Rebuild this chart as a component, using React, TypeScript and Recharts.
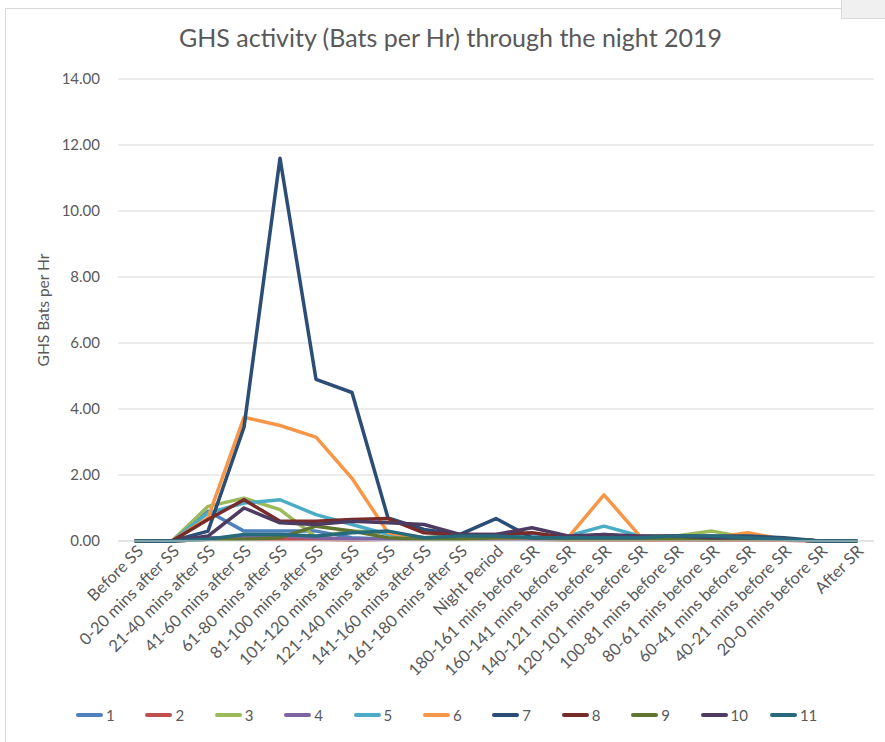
import { LineChart, Line, XAxis, YAxis, CartesianGrid, Label } from 'recharts';

const categories = [
  'Before SS',
  '0-20 mins after SS',
  '21-40 mins after SS',
  '41-60 mins after SS',
  '61-80 mins after SS',
  '81-100 mins after SS',
  '101-120 mins after SS',
  '121-140 mins after SS',
  '141-160 mins after SS',
  '161-180 mins after SS',
  'Night Period',
  '180-161 mins before SR',
  '160-141 mins before SR',
  '140-121 mins before SR',
  '120-101 mins before SR',
  '100-81 mins before SR',
  '80-61 mins before SR',
  '60-41 mins before SR',
  '40-21 mins before SR',
  '20-0 mins before SR',
  'After SR',
];

const s1 = [0, 0, 0.9, 0.3, 0.3, 0.3, 0.1, 0.05, 0.05, 0.05, 0.05, 0.05, 0.05, 0.05, 0.05, 0.05, 0.05, 0.05, 0.05, 0, 0];
const s2 = [0, 0, 0.05, 0.05, 0.05, 0.05, 0.02, 0.05, 0.05, 0.05, 0.05, 0.05, 0.02, 0.02, 0.02, 0.02, 0.02, 0.02, 0.02, 0, 0];
const s3 = [0, 0, 1.05, 1.3, 0.95, 0.12, 0.3, 0.25, 0.1, 0.15, 0.1, 0.1, 0.15, 0.15, 0.15, 0.15, 0.3, 0.1, 0.05, 0, 0];
const s4 = [0, 0, 0.1, 0.1, 0.15, 0.1, 0.05, 0.05, 0.05, 0.05, 0.05, 0.05, 0.05, 0.05, 0.05, 0.05, 0.05, 0.05, 0.05, 0, 0];
const s5 = [0, 0, 0.85, 1.15, 1.25, 0.8, 0.5, 0.2, 0.1, 0.1, 0.15, 0.15, 0.15, 0.45, 0.15, 0.1, 0.1, 0.1, 0.05, 0, 0];
const s6 = [0, 0, 0.7, 3.75, 3.5, 3.15, 1.9, 0.25, 0.05, 0.05, 0.1, 0.1, 0.1, 1.4, 0.15, 0.1, 0.1, 0.25, 0.05, 0, 0];
const s7 = [0, 0, 0.3, 3.45, 11.6, 4.9, 4.5, 0.7, 0.35, 0.2, 0.68, 0.1, 0.1, 0.2, 0.1, 0.15, 0.15, 0.15, 0.1, 0, 0];
const s8 = [0, 0, 0.65, 1.25, 0.6, 0.6, 0.65, 0.68, 0.25, 0.2, 0.2, 0.25, 0.1, 0.1, 0.1, 0.1, 0.05, 0.05, 0.05, 0, 0];
const s9 = [0, 0, 0.05, 0.05, 0.1, 0.45, 0.3, 0.1, 0.05, 0.05, 0.1, 0.1, 0.05, 0.05, 0.05, 0.05, 0.05, 0.05, 0.05, 0, 0];
const s10 = [0, 0, 0.15, 1.0, 0.55, 0.5, 0.6, 0.55, 0.5, 0.2, 0.2, 0.4, 0.15, 0.2, 0.15, 0.15, 0.1, 0.1, 0.05, 0, 0];
const s11 = [0, 0, 0.05, 0.2, 0.2, 0.15, 0.25, 0.3, 0.1, 0.15, 0.15, 0.1, 0.1, 0.1, 0.1, 0.15, 0.15, 0.1, 0.05, 0, 0];

const seriesNames = ['1', '2', '3', '4', '5', '6', '7', '8', '9', '10', '11'];
const seriesValues = [s1, s2, s3, s4, s5, s6, s7, s8, s9, s10, s11];
const seriesColors = [
  '#4F81BD', '#C0504D', '#9BBB59', '#8064A2', '#4BACC6', '#F79646',
  '#2C4D75', '#772C2A', '#5F7530', '#4D3B62', '#276A7C',
];
const yTicks = [0, 2, 4, 6, 8, 10, 12, 14];

const data = categories.map((cat, i) => {
  const row: Record<string, string | number> = { cat };
  seriesNames.forEach((n, k) => { row['s' + n] = seriesValues[k][i]; });
  return row;
});

const FONT = 'Lato, "Open Sans", sans-serif';
const TEXT = '#595959';

function XTick(props: any) {
  const { x, y, payload } = props;
  const ax = x + 4;
  const ay = y - 1;
  return (
    <text
      x={ax}
      y={ay}
      transform={`rotate(-45, ${ax}, ${ay})`}
      textAnchor="end"
      dominantBaseline="central"
      fontSize={16.5}
      fontFamily={FONT}
      fill={TEXT}
    >
      {payload.value}
    </text>
  );
}

export default function App() {
  return (
    <div style={{ position: 'relative', width: 885, height: 742, background: '#fff', fontFamily: FONT }}>
      <style>{'body{margin:0}'}</style>
      <div style={{ position: 'absolute', left: 5, top: 8, width: 836, height: 740, borderLeft: '1px solid #d9d9d9', borderTop: '1px solid #d9d9d9' }} />
      <div style={{ position: 'absolute', left: 841, top: 0, width: 44, height: 18, background: '#f0f0f0', borderLeft: '1px solid #d9d9d9', borderBottom: '1px solid #d9d9d9' }} />
      <div style={{ position: 'absolute', left: 16, top: 22, width: 869, textAlign: 'center', fontSize: 25, color: TEXT }}>
        GHS activity (Bats per Hr) through the night 2019
      </div>
      <div style={{ position: 'absolute', left: 0, top: 0 }}>
        <LineChart width={885} height={742} data={data} margin={{ top: 79, right: 11, bottom: 0, left: 58 }}>
          <CartesianGrid vertical={false} stroke="#d9d9d9" strokeWidth={1} />
          <XAxis
            dataKey="cat"
            interval={0}
            padding={{ left: 18, right: 18 }}
            stroke="#d9d9d9"
            tickLine={false}
            tick={<XTick />}
            height={201}
          />
          <YAxis
            domain={[0, 14]}
            ticks={yTicks}
            tickFormatter={(v: number) => v.toFixed(2)}
            axisLine={false}
            tickLine={false}
            tickSize={0}
            tickMargin={18}
            width={60}
            tick={{ fontSize: 15, fill: TEXT, fontFamily: FONT }}
          >
            <Label
              value="GHS Bats per Hr"
              angle={-90}
              position="insideLeft"
              offset={-15}
              style={{ fontSize: 15.5, fill: TEXT, fontFamily: FONT, textAnchor: 'middle' }}
            />
          </YAxis>
          {seriesNames.map((n, k) => (
            <Line
              key={n}
              type="linear"
              dataKey={'s' + n}
              name={n}
              stroke={seriesColors[k]}
              strokeWidth={3.5}
              strokeLinejoin="round"
              strokeLinecap="round"
              dot={false}
              isAnimationActive={false}
            />
          ))}
        </LineChart>
      </div>
      <div style={{ position: 'absolute', left: 76, top: 706, display: 'flex' }}>
        {seriesNames.map((n, k) => (
          <div key={n} style={{ display: 'flex', alignItems: 'center', width: 69.4 }}>
            <div style={{ width: 27, height: 4, borderRadius: 2, background: seriesColors[k], marginRight: 3 }} />
            <span style={{ fontSize: 15, color: TEXT }}>{n}</span>
          </div>
        ))}
      </div>
    </div>
  );
}
